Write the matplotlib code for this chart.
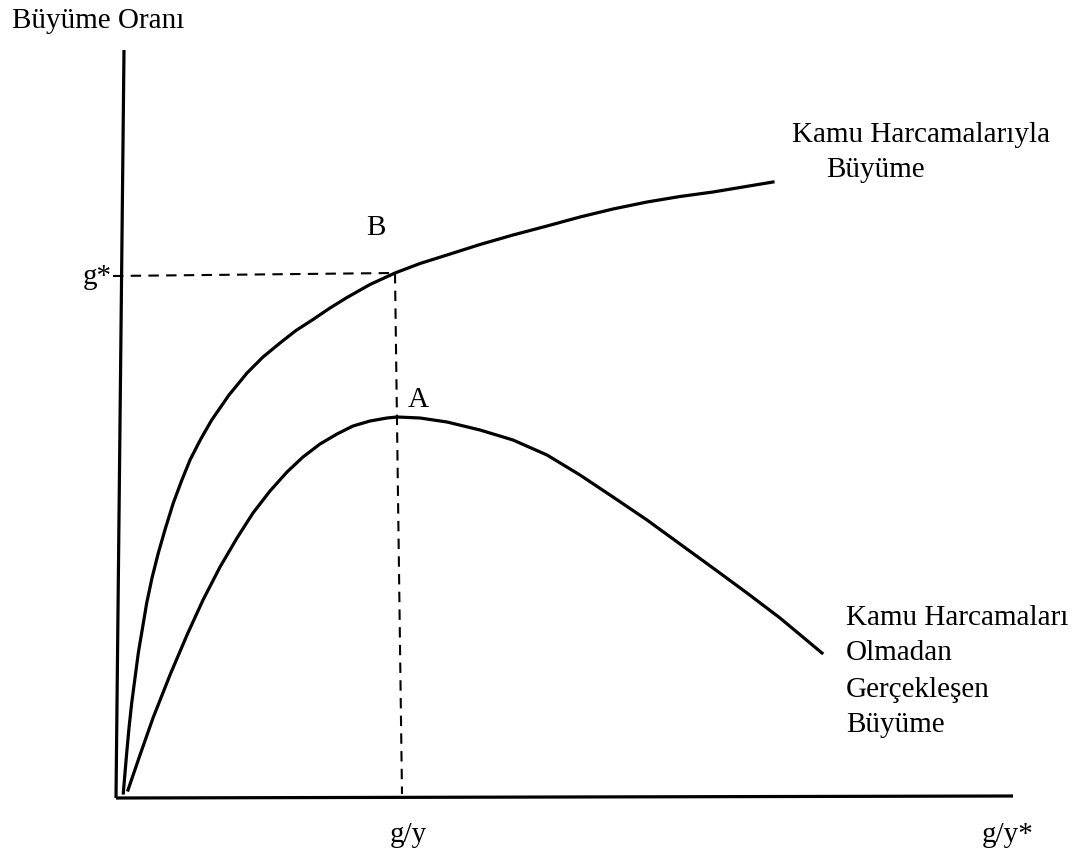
import matplotlib
matplotlib.use("Agg")
import matplotlib.pyplot as plt

# Coordinates (pixel space, y downward)
with_gov_x = [123.3, 125, 126.7, 129, 131.7, 135, 138.3, 142.5, 146.7, 152, 158.3, 165.5, 173.3,
              181.5, 190, 200.5, 211.7, 229, 247, 263, 280, 296, 313, 330, 347, 370, 395, 420,
              447, 480, 513, 547, 580, 613, 647, 680, 713, 743, 773]
with_gov_y = [793, 773, 753, 728, 703, 678, 653, 628, 603, 578, 553, 528, 503,
              481, 460, 439.5, 420, 395, 373, 357, 343, 330.5, 319.5, 308, 297.5, 284.5, 273, 263.5,
              255, 244.5, 235, 226, 217, 209, 202, 196.5, 192, 187, 182]

without_gov_x = [128, 140, 153, 170, 187, 203, 220, 237, 253, 270, 287, 303, 320, 337, 353, 370,
                 387, 397, 420, 447, 480, 513, 547, 580, 613, 647, 680, 713, 747, 780, 822]
without_gov_y = [790, 755, 718, 675, 635, 600, 567, 538, 513, 491, 472, 457, 444, 434, 426, 421,
                 418, 417, 418, 422, 430, 440, 455, 475, 497, 520, 544, 568, 593, 618, 653]

y_axis_x = [124, 116]
y_axis_y = [50, 798]
x_axis_x = [116, 1013]
x_axis_y = [798, 796]

g_star_x = [113, 395]
g_star_y = [276, 273]
g_y_x = [395, 402]
g_y_y = [273, 794]

serif = ["Liberation Serif", "DejaVu Serif"]
fs = 21

fig = plt.figure(figsize=(10.8, 8.58), dpi=100)
ax = fig.add_axes([0, 0, 1, 1])
ax.set_xlim(0, 1080)
ax.set_ylim(858, 0)
ax.axis("off")

lw = 2.3
ax.plot(y_axis_x, y_axis_y, color="black", lw=lw, solid_capstyle="butt")
ax.plot(x_axis_x, x_axis_y, color="black", lw=lw, solid_capstyle="butt")
ax.plot(with_gov_x, with_gov_y, color="black", lw=lw, solid_joinstyle="round")
ax.plot(without_gov_x, without_gov_y, color="black", lw=lw, solid_joinstyle="round")
ax.plot(g_star_x, g_star_y, color="black", lw=1.5, dashes=(5, 3.5))
ax.plot(g_y_x, g_y_y, color="black", lw=1.5, dashes=(5, 3.5))

ax.text(12, 28, "Büyüme Oranı", family=serif, fontsize=fs, va="baseline", ha="left")
ax.text(112, 277, "g*", family=serif, fontsize=fs, va="center", ha="right")
ax.text(376, 228, "B", family=serif, fontsize=fs, va="center", ha="center")
ax.text(418, 400, "A", family=serif, fontsize=fs, va="center", ha="center")
ax.text(792, 142, "Kamu Harcamalarıyla", family=serif, fontsize=fs, va="baseline", ha="left")
ax.text(826, 177, "Büyüme", family=serif, fontsize=fs, va="baseline", ha="left")
for txt, yb in zip(["Kamu Harcamaları", "Olmadan", "Gerçekleşen", "Büyüme"], [625, 660, 697, 732]):
    ax.text(846, yb, txt, family=serif, fontsize=fs, va="baseline", ha="left")
ax.text(390, 842, "g/y", family=serif, fontsize=fs, va="baseline", ha="left")
ax.text(982, 842, "g/y*", family=serif, fontsize=fs, va="baseline", ha="left")

fig.savefig("out.png", dpi=100, facecolor="white")
